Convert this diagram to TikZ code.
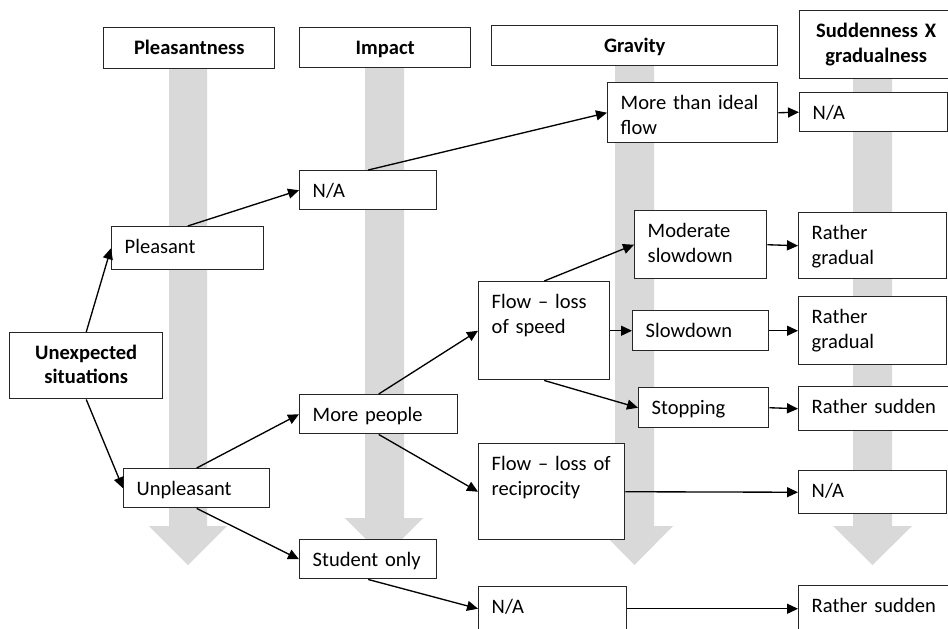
\documentclass[tikz,border=0pt]{standalone}
\usepackage{fontspec}
\setmainfont{Carlito}
\usetikzlibrary{arrows.meta}

\newcommand\bodyfont{\fontsize{15.4}{18.8}\selectfont}

% one box: name, style, left, top, right, bottom, text (coordinates in px)
\newcommand\panel[7]{%
  \pgfmathsetmacro\bxw{(#5-#3)*0.75}%
  \pgfmathsetmacro\bxt{\bxw-19.5}%
  \pgfmathsetmacro\bxd{(#6-#4)*0.75-19.9}%
  \node[#2, minimum width=\bxw pt, text width=\bxt pt, text depth=\bxd pt] (#1) at (#3,#4) {#7};}

\tikzset{
  box/.style={draw=black!85, line width=1.1pt, fill=white, anchor=north west,
    inner xsep=9.75pt, inner ysep=0pt, text height=19.9pt, align=left, font=\bodyfont},
  head/.style={box, align=center, font=\bodyfont\bfseries},
  shaft/.style={fill=black!15, draw=none},
  conn/.style={-{Triangle[length=8.25pt,width=7.5pt]}, line width=1pt, draw=black},
}

\begin{document}
\begin{tikzpicture}[x=0.75pt, y=-0.75pt]
\useasboundingbox (0,0) rectangle (948,628);
\clip (0,0) rectangle (948,628);

% broad grey arrows running down each column
\fill[shaft] (169,68) -- (207,68) -- (207,526) -- (227,526) -- (188,565) -- (149,526) -- (169,526) -- cycle;
\fill[shaft] (365,67) -- (404,67) -- (404,518) -- (423,518) -- (384,557) -- (345,518) -- (365,518) -- cycle;
\fill[shaft] (615,65) -- (654,65) -- (654,526) -- (673,526) -- (634.5,565) -- (596,526) -- (615,526) -- cycle;
\fill[shaft] (853,78) -- (892,78) -- (892,526) -- (912,526) -- (872.5,565) -- (833,526) -- (853,526) -- cycle;

% column headings
\panel{hplea}{head}{103}{27}{274}{68}{Pleasantness}
\panel{himp}{head}{299}{27}{470}{67}{Impact}
\panel{hgrav}{head}{491}{25}{777}{65}{Gravity}
\panel{hsud}{head}{799}{10}{952}{78}{Suddenness X\\gradualness}

% tree
\panel{unexp}{head, font=\fontsize{15.4}{18}\selectfont\bfseries}{9}{332}{162}{398}{Unexpected\\situations}
\panel{plea}{box}{111}{226}{263}{269}{Pleasant}
\panel{unplea}{box}{123}{468}{269}{507}{Unpleasant}
\panel{naimp}{box}{299}{170}{436}{209}{N/A}
\panel{people}{box}{299}{394}{457}{433}{More people}
\panel{student}{box}{299}{539}{436}{578}{Student only}
\panel{ideal}{box}{607}{82}{777}{142}{More than ideal\\flow}
\panel{speed}{box}{478}{281}{609}{379}{Flow -- loss\\of speed}
\panel{recip}{box}{478}{443}{624}{539}{Flow -- loss of\\reciprocity}
\panel{nagrav}{box}{478}{586}{626}{630}{N/A}
\panel{moder}{box}{634}{210}{766}{278}{Moderate\\slowdown}
\panel{slow}{box}{632}{310}{768}{350}{Slowdown}
\panel{stop}{box}{638}{387}{768}{427}{Stopping}
\panel{natop}{box}{799}{92}{947}{131}{N/A}
\panel{grada}{box}{798}{212}{946}{278}{Rather\\gradual}
\panel{gradb}{box}{798}{296}{946}{364}{Rather\\gradual}
\panel{sudda}{box}{798}{386}{952}{430}{Rather sudden}
\panel{namid}{box}{798}{470}{946}{513}{N/A}
\panel{suddb}{box}{798}{585}{952}{631}{Rather sudden}

% connectors
\draw[conn] (unexp.north) -- (plea.west);
\draw[conn] (unexp.south) -- (unplea.west);
\draw[conn] (plea.north) -- (naimp.west);
\draw[conn] (naimp.north) -- (ideal.west);
\draw[conn] (unplea.north) -- (people.west);
\draw[conn] (unplea.south) -- (student.west);
\draw[conn] (people.north) -- (speed.west);
\draw[conn] (people.south) -- (recip.west);
\draw[conn] (student.south) -- (nagrav.west);
\draw[conn] (speed.north) -- (moder.west);
\draw[conn] (speed.east) -- (slow.west);
\draw[conn] (speed.south) -- (stop.west);
\draw[conn] (ideal.east) -- (natop.west);
\draw[conn] (moder.east) -- (grada.west);
\draw[conn] (slow.east) -- (gradb.west);
\draw[conn] (stop.east) -- (sudda.west);
\draw[conn] (recip.east) -- (namid.west);
\draw[conn] (nagrav.east) -- (suddb.west);
\end{tikzpicture}
\end{document}
